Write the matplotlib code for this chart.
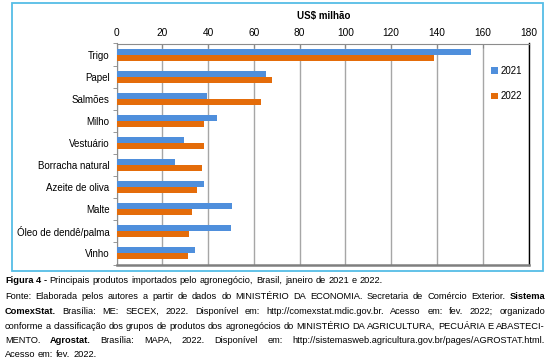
import numpy as np
import matplotlib.pyplot as plt
from matplotlib.patches import Rectangle
from matplotlib.ticker import MultipleLocator

# dados (US$ milhão)
produtos = ["Trigo", "Papel", "Salmões", "Milho", "Vestuário", "Borracha natural",
            "Azeite de oliva", "Malte", "Óleo de dendê/palma", "Vinho"]
v2021 = [155, 65.5, 39.7, 43.8, 29.4, 25.5, 38.4, 50.5, 50.1, 34.2]
v2022 = [138.5, 68, 63, 38.3, 38.3, 37.4, 35.1, 33, 31.6, 31.1]
anos = ["2021", "2022"]

legenda_linhas = [
    ("left", "**Figura 4 -** Principais produtos importados pelo agronegócio, Brasil, janeiro de 2021 e 2022."),
    ("just", "Fonte: Elaborada pelos autores a partir de dados do MINISTÉRIO DA ECONOMIA. Secretaria de Comércio Exterior. **Sistema**"),
    ("just", "**ComexStat.** Brasília: ME: SECEX, 2022. Disponível em: http://comexstat.mdic.gov.br. Acesso em: fev. 2022; organizado"),
    ("just", "conforme a classificação dos grupos de produtos dos agronegócios do MINISTÉRIO DA AGRICULTURA, PECUÁRIA E ABASTECI-"),
    ("just", "MENTO. **Agrostat.** Brasília: MAPA, 2022. Disponível em: http://sistemasweb.agricultura.gov.br/pages/AGROSTAT.html."),
    ("left", "Acesso em: fev. 2022."),
]

plt.rcParams['font.family'] = ['Liberation Sans', 'DejaVu Sans']
W, H = 550, 359
fig = plt.figure(figsize=(5.5, 3.59), dpi=100)

# moldura azul
fig.patches.append(Rectangle((12 / W, 1 - 271 / H), (543 - 12) / W, (271 - 3) / H,
                             transform=fig.transFigure, fill=False,
                             edgecolor='#55bde6', linewidth=1.3))

ax = fig.add_axes([116.5 / W, 1 - 264.5 / H, (528.5 - 116.5) / W, (264.5 - 43.5) / H])
y = np.arange(len(produtos))
h = 0.27
ax.barh(y - h / 2, v2021, height=h, color='#4f8fdc', label=anos[0], zorder=3)
ax.barh(y + h / 2, v2022, height=h, color='#e46c0a', label=anos[1], zorder=3)

ax.set_xlim(0, 180)
ax.set_ylim(len(produtos) - 0.5, -0.5)
ax.xaxis.tick_top()
ax.xaxis.set_major_locator(MultipleLocator(20))
ax.tick_params(axis='x', direction='in', length=3, color='#888888', labelsize=7.3, pad=4)
ax.set_yticks(y)
ax.set_yticklabels(produtos)
ax.set_yticks(np.arange(len(produtos) + 1) - 0.5, minor=True)
ax.tick_params(axis='y', which='major', length=0, labelsize=7, pad=5)
ax.tick_params(axis='y', which='minor', length=3, color='#888888')
ax.grid(axis='x', color='#a6a6a6', linewidth=1, zorder=0)

ax.spines['left'].set_color('#8c8c8c')
ax.spines['top'].set_color('#8c8c8c')
ax.spines['bottom'].set_color('#7f7f7f')
ax.spines['bottom'].set_linewidth(1.8)
ax.spines['right'].set_color('black')
ax.spines['right'].set_linewidth(1)

ax.legend(loc='upper right', bbox_to_anchor=(1.0, 0.93), frameon=False, fontsize=7,
          handlelength=0.7, handleheight=0.7, handletextpad=0.2, labelspacing=1.6,
          borderaxespad=0.3)

fig.text(323.5 / W, 1 - 16.5 / H, "US$ milhão", fontsize=7, fontweight='bold',
         ha='center', va='center')

# legenda da figura, texto justificado
r = fig.canvas.get_renderer()
fs = 6.7
x0, x1 = 5, 545
ys = [283, 299, 314, 329, 343, 357]


def largura(s, bold):
    t = fig.text(0, 0, s, fontsize=fs, fontweight='bold' if bold else 'normal')
    w = t.get_window_extent(r).width
    t.remove()
    return w


espaco = largura("x x", False) - 2 * largura("x", False)

for (modo, linha), yy in zip(legenda_linhas, ys):
    # separa em palavras, mantendo o estado negrito entre palavras
    palavras = []
    bold = False
    for i, parte in enumerate(linha.split("**")):
        if i > 0:
            bold = not bold
        for p in parte.split(" "):
            if p:
                palavras.append((p, bold))
    larg = [largura(p, b) for p, b in palavras]
    if modo == "just" and len(palavras) > 1:
        gap = (x1 - x0 - sum(larg)) / (len(palavras) - 1)
    else:
        gap = espaco
    x = x0
    for (p, b), w in zip(palavras, larg):
        fig.text(x / W, 1 - yy / H, p, fontsize=fs, fontweight='bold' if b else 'normal',
                 va='baseline', ha='left')
        x += w + gap

fig.savefig("out.png", dpi=100)
